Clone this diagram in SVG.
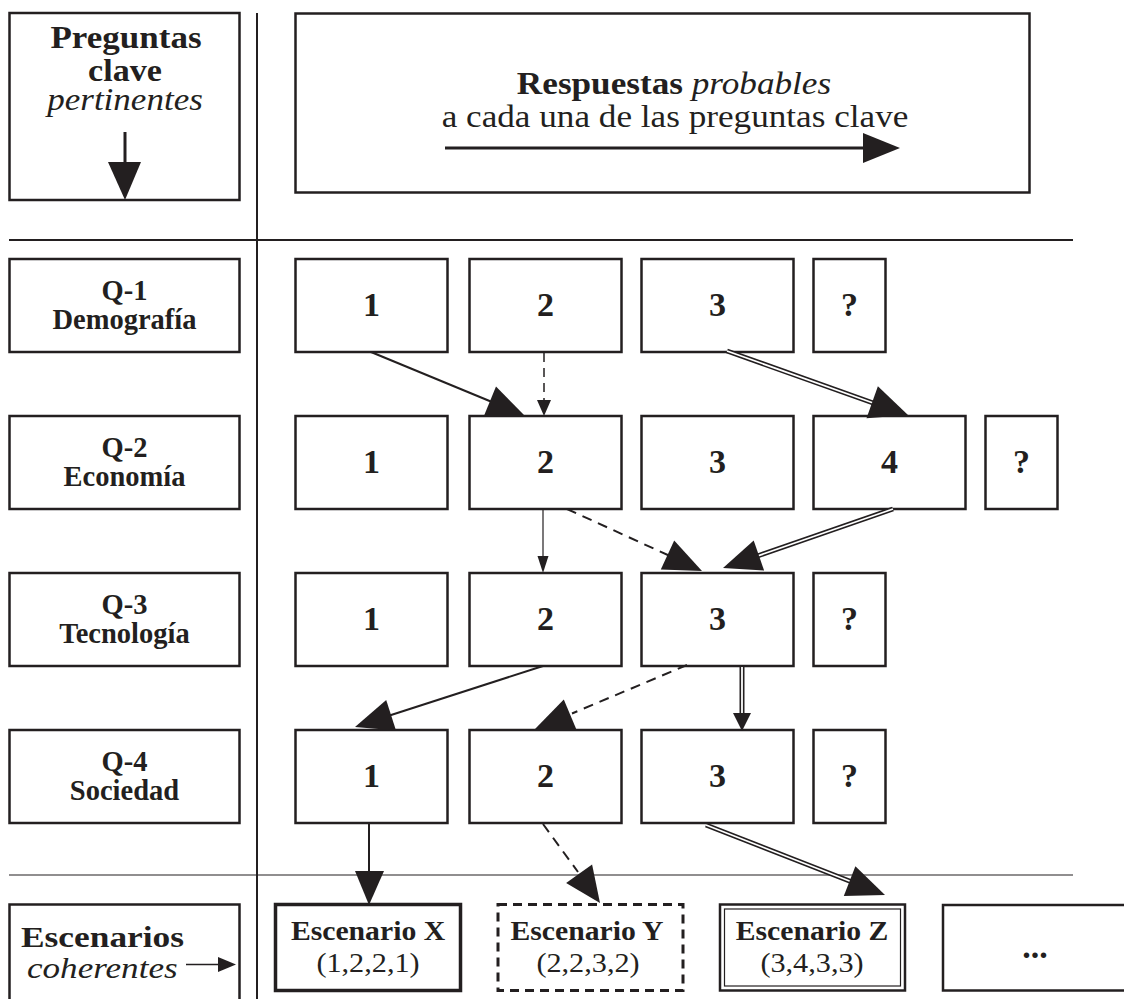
<svg xmlns="http://www.w3.org/2000/svg" width="1124" height="999" viewBox="0 0 1124 999">
<style>
.bx{fill:#fff;stroke:#231f20;stroke-width:2.5}
.ln{stroke:#231f20;fill:none}
.hd{fill:#231f20;stroke:none}
.t{font-family:"Liberation Serif","Times New Roman",serif;fill:#231f20}
.b{font-weight:bold}
.i{font-style:italic}
.n{font-size:34px;font-weight:bold;text-anchor:middle}
.q{font-size:28.5px;font-weight:bold;text-anchor:middle}
.dbo{stroke:#231f20;stroke-width:5;fill:none}
.dbi{stroke:#fff;stroke-width:1.8;fill:none}
</style>
<rect width="1124" height="999" fill="#fff"/>
<g id="grid" class="ln">
<line x1="257" y1="13" x2="257" y2="999" stroke-width="2"/>
<line x1="9" y1="240" x2="1073" y2="240" stroke-width="2"/>
<line x1="9" y1="875" x2="1073" y2="875" stroke-width="1.2"/>
</g>
<g id="hdr-preguntas">
<rect class="bx" x="9.5" y="13" width="230" height="187"/>
<text class="t b" font-size="31" text-anchor="middle" transform="translate(126,48) scale(1.13,1)">Preguntas</text>
<text class="t b" font-size="31" text-anchor="middle" transform="translate(125,81) scale(1.1,1)">clave</text>
<text class="t i" font-size="31" text-anchor="middle" transform="translate(125,110) scale(1.13,1)">pertinentes</text>
<line class="ln" x1="125" y1="132" x2="125" y2="164" stroke-width="3"/>
<polygon class="hd" points="108,162 141,162 125,200"/>
</g>
<g id="hdr-respuestas">
<rect class="bx" x="295.5" y="13.5" width="734" height="179"/>
<text class="t b" font-size="31" text-anchor="middle" transform="translate(674,94) scale(1.135,1)">Respuestas <tspan class="i" font-weight="normal">probables</tspan></text>
<text class="t" font-size="31" text-anchor="middle" transform="translate(675,127) scale(1.135,1)">a cada una de las preguntas clave</text>
<line class="ln" x1="445" y1="148" x2="866" y2="148" stroke-width="3"/>
<polygon class="hd" points="863,133 863,163 900,148"/>
</g>
<g id="q1">
<rect class="bx" x="9.5" y="259" width="230" height="93"/>
<text class="t q" x="124.5" y="300">Q-1</text>
<text class="t q" x="124.5" y="329">Demografía</text>
</g>
<g id="q2">
<rect class="bx" x="9.5" y="416" width="230" height="93"/>
<text class="t q" x="124.5" y="457">Q-2</text>
<text class="t q" x="124.5" y="486">Economía</text>
</g>
<g id="q3">
<rect class="bx" x="9.5" y="573" width="230" height="93"/>
<text class="t q" x="124.5" y="614">Q-3</text>
<text class="t q" x="124.5" y="643">Tecnología</text>
</g>
<g id="q4">
<rect class="bx" x="9.5" y="730" width="230" height="93"/>
<text class="t q" x="124.5" y="771">Q-4</text>
<text class="t q" x="124.5" y="800">Sociedad</text>
</g>
<g id="r1-1"><rect class="bx" x="295.5" y="259" width="152" height="93"/><text class="t n" x="371.5" y="316">1</text></g>
<g id="r1-2"><rect class="bx" x="469.5" y="259" width="152" height="93"/><text class="t n" x="545.5" y="316">2</text></g>
<g id="r1-3"><rect class="bx" x="641.5" y="259" width="152" height="93"/><text class="t n" x="717.5" y="316">3</text></g>
<g id="r1-q"><rect class="bx" x="813.5" y="259" width="72" height="93"/><text class="t n" x="849.5" y="316">?</text></g>
<g id="r2-1"><rect class="bx" x="295.5" y="416" width="152" height="93"/><text class="t n" x="371.5" y="473">1</text></g>
<g id="r2-2"><rect class="bx" x="469.5" y="416" width="152" height="93"/><text class="t n" x="545.5" y="473">2</text></g>
<g id="r2-3"><rect class="bx" x="641.5" y="416" width="152" height="93"/><text class="t n" x="717.5" y="473">3</text></g>
<g id="r2-4"><rect class="bx" x="813.5" y="416" width="152" height="93"/><text class="t n" x="889.5" y="473">4</text></g>
<g id="r2-q"><rect class="bx" x="985.5" y="416" width="72" height="93"/><text class="t n" x="1021.5" y="473">?</text></g>
<g id="r3-1"><rect class="bx" x="295.5" y="573" width="152" height="93"/><text class="t n" x="371.5" y="630">1</text></g>
<g id="r3-2"><rect class="bx" x="469.5" y="573" width="152" height="93"/><text class="t n" x="545.5" y="630">2</text></g>
<g id="r3-3"><rect class="bx" x="641.5" y="573" width="152" height="93"/><text class="t n" x="717.5" y="630">3</text></g>
<g id="r3-q"><rect class="bx" x="813.5" y="573" width="72" height="93"/><text class="t n" x="849.5" y="630">?</text></g>
<g id="r4-1"><rect class="bx" x="295.5" y="730" width="152" height="93"/><text class="t n" x="371.5" y="787">1</text></g>
<g id="r4-2"><rect class="bx" x="469.5" y="730" width="152" height="93"/><text class="t n" x="545.5" y="787">2</text></g>
<g id="r4-3"><rect class="bx" x="641.5" y="730" width="152" height="93"/><text class="t n" x="717.5" y="787">3</text></g>
<g id="r4-q"><rect class="bx" x="813.5" y="730" width="72" height="93"/><text class="t n" x="849.5" y="787">?</text></g>
<g id="escenarios">
<rect class="bx" x="9.5" y="904.5" width="230" height="120"/>
<text class="t b" font-size="29" transform="translate(21,947) scale(1.22,1)">Escenarios</text>
<text class="t i" font-size="29" transform="translate(27,978) scale(1.21,1)">coherentes</text>
<line class="ln" x1="186" y1="964.5" x2="220" y2="964.5" stroke-width="1.5"/>
<polygon class="hd" points="218,957 218,972 236,964.5"/>
</g>
<g id="esc-x">
<rect x="275.5" y="904.5" width="185" height="86" fill="#fff" stroke="#231f20" stroke-width="3.5"/>
<text class="t b" font-size="27" text-anchor="middle" transform="translate(368,940) scale(1.1,1)">Escenario X</text>
<text class="t" font-size="27" text-anchor="middle" transform="translate(368,972) scale(1.12,1)">(1,2,2,1)</text>
</g>
<g id="esc-y">
<rect x="498" y="904.5" width="185" height="86" fill="#fff" stroke="#231f20" stroke-width="3" stroke-dasharray="9 6"/>
<text class="t b" font-size="27" text-anchor="middle" transform="translate(587,940) scale(1.1,1)">Escenario Y</text>
<text class="t" font-size="27" text-anchor="middle" transform="translate(588,972) scale(1.12,1)">(2,2,3,2)</text>
</g>
<g id="esc-z">
<rect x="720" y="904.5" width="185" height="86" fill="#fff" stroke="#231f20" stroke-width="2.5"/>
<rect x="724.5" y="909" width="176" height="77" fill="none" stroke="#231f20" stroke-width="1.2"/>
<text class="t b" font-size="27" text-anchor="middle" transform="translate(812,940) scale(1.1,1)">Escenario Z</text>
<text class="t" font-size="27" text-anchor="middle" transform="translate(812,972) scale(1.12,1)">(3,4,3,3)</text>
</g>
<g id="esc-more">
<rect class="bx" x="943" y="905" width="200" height="85.5"/>
<text class="t b" font-size="34" text-anchor="middle" x="1035" y="958">...</text>
</g>
<g id="connectors">
<line class="ln" x1="371" y1="352" x2="492" y2="402" stroke-width="2"/>
<polygon class="hd" points="525,416 496,386.6 483.8,416.2"/>
<line class="ln" x1="544" y1="353" x2="544" y2="401" stroke-width="1.5" stroke-dasharray="9 6"/>
<polygon class="hd" points="544,416 537,400 551,400"/>
<line class="dbo" x1="727" y1="351" x2="876" y2="404"/>
<line class="dbi" x1="727" y1="351" x2="876" y2="404"/>
<polygon class="hd" points="908,415 877.9,386.3 866.5,418.3"/>
<line class="ln" x1="543" y1="510" x2="543" y2="558" stroke-width="1.2"/>
<polygon class="hd" points="543,573 537.5,556 548.5,556"/>
<line class="ln" x1="567" y1="509" x2="670" y2="556" stroke-width="2" stroke-dasharray="10 7"/>
<polygon class="hd" points="702,571 660.8,569.6 674.2,540.6"/>
<line class="dbo" x1="893" y1="509" x2="756" y2="556.5"/>
<line class="dbi" x1="893" y1="509" x2="756" y2="556.5"/>
<polygon class="hd" points="723,568 753.7,540.4 764.1,570.6"/>
<line class="ln" x1="543" y1="666" x2="388" y2="716" stroke-width="2"/>
<polygon class="hd" points="355,727 386.2,700.1 396,730.5"/>
<line class="ln" x1="687" y1="665" x2="572" y2="713.5" stroke-width="2" stroke-dasharray="10 7"/>
<polygon class="hd" points="535,729 563.8,699.5 576.2,729.1"/>
<line class="dbo" x1="742" y1="667" x2="742" y2="716"/>
<line class="dbi" x1="742" y1="667" x2="742" y2="716"/>
<polygon class="hd" points="742,731 733,713 751,713"/>
<line class="ln" x1="369" y1="823" x2="369" y2="874" stroke-width="2"/>
<polygon class="hd" points="369,905 355,871 384,871"/>
<line class="ln" x1="543" y1="824" x2="578" y2="872" stroke-width="2" stroke-dasharray="10 7"/>
<polygon class="hd" points="600,903 566.1,883 592.1,864.4"/>
<line class="dbo" x1="706" y1="825" x2="852" y2="882"/>
<line class="dbi" x1="706" y1="825" x2="852" y2="882"/>
<polygon class="hd" points="885,895 843.8,896.1 855.4,866.3"/>
</g>
</svg>
